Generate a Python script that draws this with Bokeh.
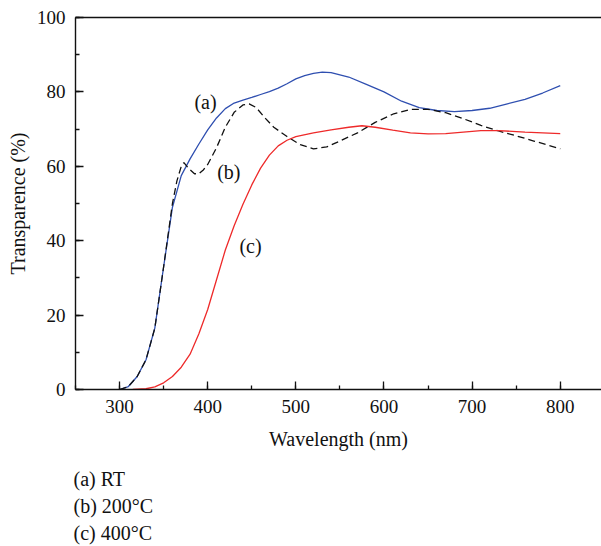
from bokeh.plotting import figure
from bokeh.models import Range1d, LinearAxis, SingleIntervalTicker, FixedTicker, Label, Title
from bokeh.embed import file_html
from bokeh.resources import INLINE

# (a) RT
wl_a = [300, 310, 320, 330, 340, 350, 360, 370, 380, 390, 400, 410, 420, 430, 440,
        450, 460, 470, 480, 490, 500, 510, 520, 530, 540, 560, 580, 600, 620, 640,
        660, 680, 700, 720, 740, 760, 780, 800]
tr_a = [0, 0.8, 3.5, 8, 16.5, 33, 49, 57.5, 62, 66, 69.8, 73, 75.5, 77, 77.8,
        78.5, 79.3, 80.1, 81, 82.2, 83.5, 84.4, 85, 85.3, 85.2, 84, 82, 80, 77.5, 75.8,
        75, 74.7, 75, 75.6, 76.8, 78, 79.7, 81.7]

# (b) 200°C
wl_b = [300, 310, 320, 330, 340, 350, 360, 365, 370, 373, 378, 385, 390, 395, 400,
        410, 420, 430, 440, 447, 455, 465, 475, 490, 505, 520, 535, 550, 570, 590,
        610, 630, 650, 670, 690, 710, 730, 750, 770, 800]
tr_b = [0, 0.8, 3.5, 8, 16.5, 33, 50, 56, 60, 61, 59.5, 58, 58, 59, 60.5,
        65, 70.5, 74.5, 76.5, 76.8, 75.8, 73, 70.5, 68, 65.8, 64.7, 65.2, 66.8, 69, 71.8,
        74, 75.3, 75.3, 74.4, 72.8, 71, 69.5, 68.2, 66.8, 64.7]

# (c) 400°C
wl_c = [315, 330, 340, 350, 360, 370, 380, 390, 400, 410, 420, 430, 440, 450, 460,
        470, 480, 490, 500, 520, 540, 560, 575, 590, 610, 630, 650, 670, 690, 710,
        730, 760, 800]
tr_c = [0, 0.2, 0.7, 1.8, 3.5, 6, 9.5, 15, 21.5, 29.5, 37.5, 44, 49.8, 55, 59.5,
        63, 65.5, 67, 68, 69, 69.8, 70.5, 70.9, 70.5, 69.7, 69, 68.7, 68.8, 69.2, 69.6,
        69.6, 69.2, 68.8]

curve_labels = ["(a)", "(b)", "(c)"]
curve_label_x = [397.5, 424, 448.6]
curve_label_y = [77.3, 58.4, 38.7]
legend_lines = ["(a) RT", "(b) 200°C", "(c) 400°C"]

FONT = "Liberation Serif"
FS_TICK = "19px"
FS = "20px"
INK = "#111111"

p = figure(frame_width=526, frame_height=372, output_backend="svg", toolbar_location=None,
           x_range=Range1d(250, 846.8), y_range=Range1d(0, 100),
           min_border_left=75, min_border_right=0, min_border_top=17,
           min_border_bottom=0)
p.outline_line_color = None
p.xgrid.visible = False
p.ygrid.visible = False
p.background_fill_color = "white"
p.border_fill_color = "white"

p.xaxis.ticker = SingleIntervalTicker(interval=100, num_minor_ticks=2)
p.yaxis.ticker = SingleIntervalTicker(interval=20, num_minor_ticks=2)
for ax in (p.xaxis[0], p.yaxis[0]):
    ax.major_tick_in = 8
    ax.major_tick_out = 0
    ax.minor_tick_in = 4
    ax.minor_tick_out = 0
    ax.axis_line_width = 1.4
    ax.major_tick_line_width = 1.3
    ax.minor_tick_line_width = 1.3
    ax.axis_line_color = INK
    ax.major_tick_line_color = INK
    ax.minor_tick_line_color = INK
    ax.major_label_text_font = FONT
    ax.major_label_text_font_size = FS_TICK
    ax.major_label_text_color = INK
    ax.axis_label_text_font = FONT
    ax.axis_label_text_font_size = FS
    ax.axis_label_text_font_style = "normal"
    ax.axis_label_text_color = INK

p.xaxis.axis_label = "Wavelength (nm)"
p.yaxis.axis_label = "Transparence (%)"
p.xaxis.major_label_standoff = 10
p.yaxis.major_label_standoff = 10
p.xaxis.axis_label_standoff = 12
p.yaxis.axis_label_standoff = 5

top = LinearAxis(ticker=FixedTicker(ticks=[]))
top.major_tick_in = 0
top.major_tick_out = 0
top.minor_tick_in = 0
top.minor_tick_out = 0
top.axis_line_width = 1.4
top.axis_line_color = INK
p.add_layout(top, "above")

p.line(wl_a, tr_a, line_color="#2f4fb0", line_width=1.3)
p.line(wl_b, tr_b, line_color=INK, line_width=1.3, line_dash="7 4")
p.line(wl_c, tr_c, line_color="#ee2a2a", line_width=1.3)

for t, x, y in zip(curve_labels, curve_label_x, curve_label_y):
    p.add_layout(Label(x=x, y=y, text=t, text_font=FONT, text_font_size=FS,
                       text_align="center", text_baseline="middle",
                       text_color=INK))

legend_standoffs = [26, -20, 26]
for t, s in zip(legend_lines, legend_standoffs):
    p.add_layout(Title(text=t, text_font=FONT, text_font_size=FS,
                       text_font_style="normal", text_color=INK,
                       align="left", offset=-2, standoff=s),
                 "below")

open("out.html", "w").write(file_html(p, INLINE))
